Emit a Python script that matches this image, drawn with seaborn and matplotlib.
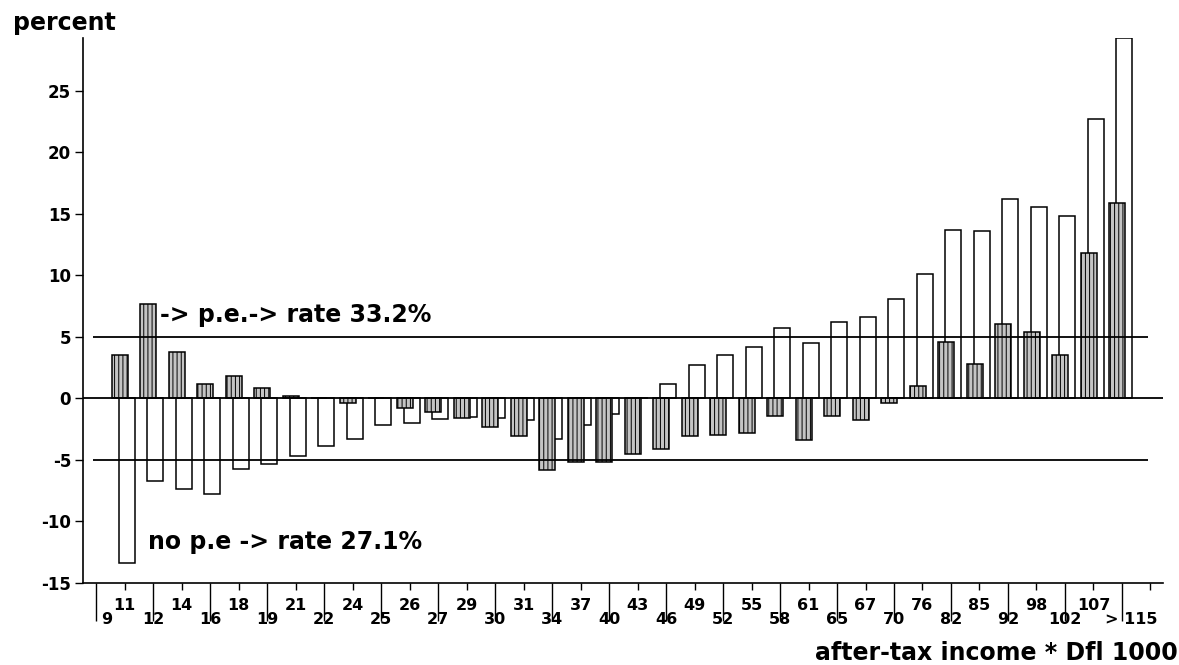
import numpy as np
import pandas as pd
import matplotlib
matplotlib.use("Agg")
import matplotlib.pyplot as plt
import matplotlib.transforms as mtransforms
import seaborn as sns

# Income bracket labels (Dfl 1000), one per tick on the x axis
tick_labels = ["9", "11", "12", "14", "16", "18", "19", "21", "22", "24",
               "25", "26", "27", "29", "30", "31", "34", "37", "40", "43",
               "46", "49", "52", "55", "58", "61", "65", "67", "70", "76",
               "82", "85", "92", "98", "102", "107", "> 115"]

# Change in tax burden (percent) per bracket, with private enterprise rate
pe_change = [3.5, 7.7, 3.8, 1.2, 1.8, 0.8, 0.2, 0.0, -0.4, 0.0,
             -0.8, -1.1, -1.6, -2.3, -3.1, -5.8, -5.2, -5.2, -4.5, -4.1,
             -3.1, -3.0, -2.8, -1.4, -3.4, -1.4, -1.8, -0.4, 1.0, 4.6,
             2.8, 6.0, 5.4, 3.5, 11.8, 15.9]

# Change in tax burden (percent) per bracket, without private enterprise
no_pe_change = [-13.4, -6.7, -7.4, -7.8, -5.7, -5.3, -4.7, -3.9, -3.3, -2.2,
                -2.0, -1.7, -1.5, -1.6, -1.8, -3.3, -2.2, -1.3, 0.0, 1.2,
                2.7, 3.5, 4.2, 5.7, 4.5, 6.2, 6.6, 8.1, 10.1, 13.7,
                13.6, 16.2, 15.5, 14.8, 22.7, 29.3]

pe_rate_label = "-> p.e.-> rate 33.2%"
no_pe_rate_label = "no p.e -> rate 27.1%"
band = 5
y_ticks = [-15, -10, -5, 0, 5, 10, 15, 20, 25]

sns.set_style("ticks", {"axes.edgecolor": "black", "xtick.color": "black",
                        "ytick.color": "black", "text.color": "black",
                        "axes.labelcolor": "black"})
plt.rcParams["font.family"] = ["DejaVu Sans"]
plt.rcParams["font.weight"] = "bold"
plt.rcParams["axes.unicode_minus"] = False
plt.rcParams["hatch.linewidth"] = 0.7

W, H = 1179, 665
fig = plt.figure(figsize=(W / 100, H / 100), dpi=100)
ax = fig.add_axes([83 / W, 82 / H, (1163 - 83) / W, (583 - 37.6) / H])

pos = np.arange(1, len(tick_labels))
df = pd.DataFrame({"category": tick_labels[1:], "pos": pos,
                   "pe": pe_change, "no_pe": no_pe_change})

# open bars (no private enterprise), slightly to the right
sns.barplot(x=df["pos"] + 0.08, y=df["no_pe"], native_scale=True, orient="x",
            width=0.56, color="white", saturation=1, edgecolor="black",
            linewidth=1.1, errorbar=None, ax=ax, zorder=2)
n_open = len(ax.patches)
# shaded bars (private enterprise), drawn on top
sns.barplot(x=df["pos"] - 0.17, y=df["pe"], native_scale=True, orient="x",
            width=0.56, color="#c4c4c4", saturation=1, edgecolor="black",
            linewidth=1.1, errorbar=None, ax=ax, zorder=3)
for p in ax.patches[n_open:]:
    p.set_hatch("||||")

ax.axhline(0, color="black", lw=1.3, zorder=5)
ax.hlines([band, -band], -0.1, 36.9, color="black", lw=1.3, zorder=5)

ax.set_xlim(-0.46, 37.44)
ax.set_ylim(-15, 29.3)
ax.set_xlabel("")
ax.set_ylabel("")

major_pos = np.arange(0, len(tick_labels), 2)
minor_pos = np.arange(1, len(tick_labels) + 1, 2)
ax.set_xticks(major_pos, [tick_labels[i] for i in major_pos])
ax.set_xticks(minor_pos, [tick_labels[i] if i < len(tick_labels) else ""
                          for i in minor_pos], minor=True)
ax.tick_params(axis="x", which="major", length=27.4, width=1.0, pad=-6.5,
               labelsize=11.5)
ax.tick_params(axis="x", which="minor", length=5, width=1.0, pad=5.8,
               labelsize=11.5)
ax.set_yticks(y_ticks)
ax.tick_params(axis="y", length=6, width=1.0, pad=2.5, labelsize=12)
for lab in ax.get_xticklabels(which="both") + ax.get_yticklabels():
    lab.set_fontweight("bold")

# nudge the first and last bracket labels
labels = ax.get_xticklabels()
labels[0].set_transform(labels[0].get_transform() +
                        mtransforms.ScaledTranslation(0.11, 0, fig.dpi_scale_trans))
labels[-1].set_transform(labels[-1].get_transform() +
                         mtransforms.ScaledTranslation(0.09, 0, fig.dpi_scale_trans))

sns.despine(ax=ax)
for s in ("left", "bottom"):
    ax.spines[s].set_linewidth(1.2)

ax.text(2.25, 6.8, pe_rate_label, ha="left", va="center",
        fontsize=17, fontweight="bold", zorder=6)
ax.text(1.82, -11.7, no_pe_rate_label, ha="left", va="center",
        fontsize=17, fontweight="bold", zorder=6)

fig.text(13 / W, 1 - 23 / H, "percent", ha="left", va="center",
         fontsize=17, fontweight="bold")
fig.text(1178 / W, 1 - 653 / H, "after-tax income * Dfl 1000", ha="right",
         va="center", fontsize=17, fontweight="bold")

fig.savefig("out.png", dpi=100)
